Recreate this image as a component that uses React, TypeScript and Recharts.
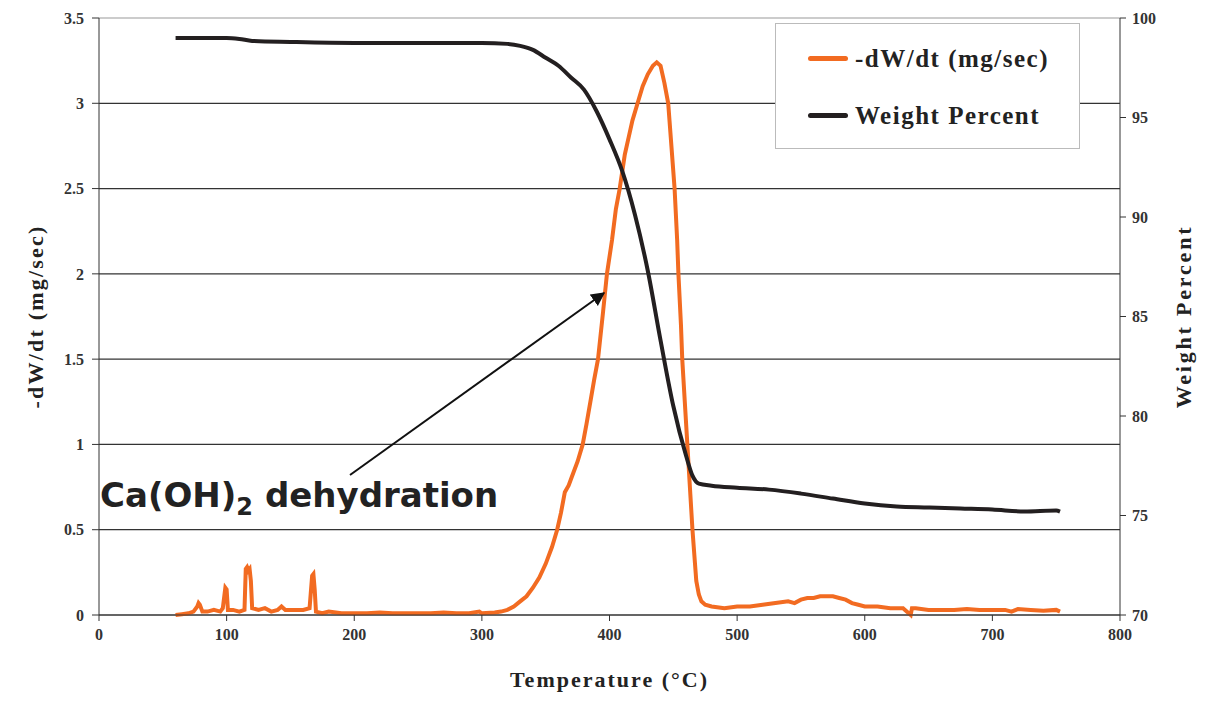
import { ComposedChart, Line, XAxis, YAxis, CartesianGrid } from 'recharts'

// temperature (°C) samples for each series
const rateTemps = [
  60, 65, 70, 74, 77, 78, 79, 81, 85, 90, 95, 97, 99, 100, 101, 105, 110, 114, 115, 116, 117, 118, 119, 120,
  125, 130, 135, 140, 143, 146, 150, 155, 160, 165, 167, 168, 169, 170, 175, 180, 190, 200, 210, 220, 230,
  240, 250, 260, 270, 280, 290, 298, 300, 310, 315, 320, 325, 330, 335, 340, 345, 350, 355, 359, 362, 365,
  368, 370, 375, 379, 382, 385, 388, 391, 395, 398, 402, 405, 408, 412, 415, 418, 422, 426, 430, 434, 437,
  440, 443, 446, 448, 451, 453, 454, 456, 457, 459, 461, 463, 465, 467, 468, 470, 472, 475, 480, 490, 500,
  510, 520, 530, 540, 545, 550, 555, 560, 565, 570, 575, 580, 585, 590, 595, 600, 610, 620, 630, 636, 637,
  640, 650, 660, 670, 680, 690, 700, 710, 715, 720, 730, 740, 750, 753,
]
const rateValues = [
  0, 0.005, 0.01, 0.02, 0.05, 0.07, 0.06, 0.02, 0.02, 0.03, 0.02, 0.04, 0.16, 0.15, 0.03, 0.03, 0.02, 0.03,
  0.27, 0.28, 0.26, 0.27, 0.2, 0.04, 0.03, 0.04, 0.02, 0.03, 0.05, 0.03, 0.03, 0.03, 0.03, 0.04, 0.23, 0.24,
  0.15, 0.02, 0.01, 0.02, 0.01, 0.01, 0.01, 0.015, 0.01, 0.01, 0.01, 0.01, 0.015, 0.01, 0.01, 0.02, 0.01,
  0.015, 0.02, 0.03, 0.05, 0.08, 0.11, 0.16, 0.22, 0.3, 0.4, 0.5, 0.6, 0.72, 0.76, 0.8, 0.9, 1.0, 1.12, 1.25,
  1.38, 1.5, 1.78, 2.0, 2.2, 2.38, 2.5, 2.7, 2.8, 2.9, 3.0, 3.1, 3.17, 3.22, 3.24, 3.22, 3.12, 3.0, 2.8, 2.5,
  2.2, 2.0, 1.7, 1.5, 1.25, 1.0, 0.75, 0.5, 0.3, 0.2, 0.12, 0.08, 0.06, 0.05, 0.04, 0.05, 0.05, 0.06, 0.07,
  0.08, 0.07, 0.09, 0.1, 0.1, 0.11, 0.11, 0.11, 0.1, 0.09, 0.07, 0.06, 0.05, 0.05, 0.04, 0.04, 0.0, 0.04,
  0.04, 0.03, 0.03, 0.03, 0.035, 0.03, 0.03, 0.03, 0.02, 0.035, 0.03, 0.025, 0.03, 0.02,
]

const weightTemps = [
  60, 80, 100, 110, 120, 150, 200, 250, 300, 320, 330, 340, 350, 360, 370, 380, 390, 400, 410, 420, 430, 440,
  450, 460, 465, 470, 480, 500, 525, 550, 575, 600, 625, 650, 675, 700, 725, 750, 753,
]
const weightValues = [
  99.0, 99.0, 99.0, 98.95, 98.85, 98.8, 98.75, 98.75, 98.75, 98.7, 98.6, 98.4, 98.0, 97.6, 97.0, 96.4, 95.3,
  93.9, 92.3, 90.1, 87.3, 83.8, 80.5, 78.0, 77.0, 76.6, 76.5, 76.4, 76.3, 76.1, 75.85, 75.6, 75.45, 75.4, 75.35,
  75.3, 75.2, 75.25, 75.2,
]

const tempTicks = [0, 100, 200, 300, 400, 500, 600, 700, 800]
const rateTicks = [0, 0.5, 1, 1.5, 2, 2.5, 3, 3.5]
const weightTicks = [70, 75, 80, 85, 90, 95, 100]

const rateData = rateTemps.map((t, i) => ({ t, rate: rateValues[i] }))
const weightData = weightTemps.map((t, i) => ({ t, weight: weightValues[i] }))

const ORANGE = '#F26B21'
const BLACK = '#231F20'
const serif = '"Liberation Serif", "Times New Roman", serif'
const tickStyle = { fontFamily: serif, fontWeight: 700, fontSize: 16, fill: '#333' }
const titleStyle = { fontFamily: serif, fontWeight: 700, fontSize: 22, fill: '#222', textAnchor: 'middle' as const, letterSpacing: 2 }

function LegendBox() {
  const row = (color: string, text: string) => (
    <div style={{ display: 'flex', alignItems: 'center', height: 57 }}>
      <div style={{ width: 40, height: 5, borderRadius: 3, background: color, marginLeft: 32, marginRight: 7 }} />
      <span style={{ fontFamily: serif, fontWeight: 700, fontSize: 25, letterSpacing: 1.5, color: '#222' }}>{text}</span>
    </div>
  )
  return (
    <div
      style={{
        position: 'absolute', left: 775, top: 23, width: 305, height: 126,
        border: '1px solid #bbb', background: '#fff', paddingTop: 6, boxSizing: 'border-box',
      }}
    >
      {row(ORANGE, '-dW/dt (mg/sec)')}
      {row(BLACK, 'Weight Percent')}
    </div>
  )
}

// top gridline (3.5) is lighter than the rest
const gridLine = (p: any) => (
  <line
    key={`h-${p.index}-${p.y1}`}
    x1={p.x1}
    x2={p.x2}
    y1={p.y1}
    y2={p.y2}
    stroke={p.y1 < 20 ? '#999' : '#333'}
    strokeWidth={1.2}
  />
)

export default function App() {
  return (
    <div style={{ position: 'absolute', left: 0, top: 0, width: 1225, height: 701, background: '#fff' }}>
      <ComposedChart width={1225} height={701} margin={{ top: 18, right: 0, bottom: 40, left: 0 }}>
        <CartesianGrid yAxisId="left" vertical={false} horizontal={gridLine} />
        <XAxis
          type="number"
          dataKey="t"
          domain={[0, 800]}
          ticks={tempTicks}
          allowDataOverflow
          stroke="#333"
          tickSize={6}
          tickMargin={8}
          tick={tickStyle}
          height={46}
          label={{ value: 'Temperature (°C)', position: 'insideBottom', offset: -26, style: titleStyle }}
        />
        <YAxis
          yAxisId="left"
          domain={[0, 3.5]}
          ticks={rateTicks}
          width={99}
          stroke="#333"
          tickSize={7}
          tickMargin={8}
          tick={tickStyle}
          label={{ value: '-dW/dt (mg/sec)', angle: -90, position: 'insideLeft', offset: 35, style: { ...titleStyle, letterSpacing: 2.2 } }}
        />
        <YAxis
          yAxisId="right"
          orientation="right"
          domain={[70, 100]}
          ticks={weightTicks}
          width={105}
          stroke="#333"
          tickSize={6}
          tickMargin={6}
          tick={{ ...tickStyle, textAnchor: 'start' }}
          label={{ value: 'Weight Percent', angle: -90, position: 'insideRight', offset: 42, style: { ...titleStyle, letterSpacing: 2.8 } }}
        />
        <Line
          yAxisId="left"
          data={rateData}
          dataKey="rate"
          type="linear"
          stroke={ORANGE}
          strokeWidth={4}
          dot={false}
          isAnimationActive={false}
        />
        <Line
          yAxisId="right"
          data={weightData}
          dataKey="weight"
          type="monotone"
          stroke={BLACK}
          strokeWidth={4}
          dot={false}
          isAnimationActive={false}
        />
      </ComposedChart>
      <LegendBox />
      <svg width={1225} height={701} style={{ position: 'absolute', left: 0, top: 0, pointerEvents: 'none' }}>
        <defs>
          <marker id="arrow" viewBox="0 0 10 10" refX="9" refY="5" markerWidth="7" markerHeight="7" orient="auto">
            <path d="M0,0 L10,5 L0,10 z" fill="#111" />
          </marker>
        </defs>
        <line x1={350} y1={475} x2={604} y2={293} stroke="#111" strokeWidth={2} markerEnd="url(#arrow)" />
        <text x={100} y={507} style={{ fontFamily: '"DejaVu Sans", Verdana, sans-serif', fontWeight: 700, fontSize: 34, fill: '#222' }}>
          Ca(OH)
          <tspan dy={8} fontSize={24}>2</tspan>
          <tspan dy={-8}> dehydration</tspan>
        </text>
      </svg>
    </div>
  )
}
